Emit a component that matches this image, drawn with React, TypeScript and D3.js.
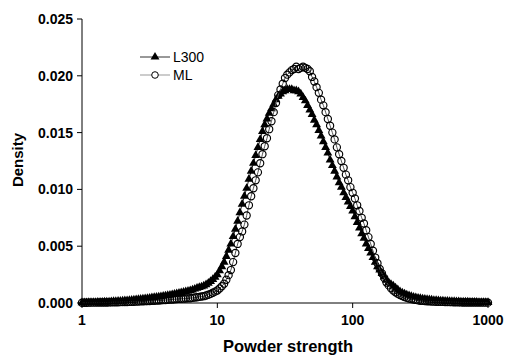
import React from "react";
import * as d3 from "d3";

// Sampling grid: 60 samples per decade from 1 to 1000 (log10 steps of 1/60)
const SAMPLES_PER_DECADE = 60;
const SAMPLE_COUNT = 181;

// Density values in units of 1e-4
const DENSITY_UNIT = 1e-4;
const l300Density = [
  0.3, 0.35, 0.4, 0.45, 0.5, 0.55, 0.6,
  0.68, 0.77, 0.85, 0.93, 1.0, 1.1,
  1.2, 1.35, 1.5, 1.6, 1.75, 1.9,
  2.05, 2.2, 2.35, 2.5, 2.7, 2.9,
  3.1, 3.35, 3.6, 3.85, 4.1, 4.4,
  4.65, 4.9, 5.2, 5.45, 5.7, 6.0,
  6.35, 6.7, 7.05, 7.45, 7.8, 8.2,
  8.65, 9.1, 9.5, 10.0, 10.5, 11.0,
  11.6, 12.3, 13.0, 13.7, 14.3, 15.0,
  16.2, 17.5, 19.0, 20.8, 22.8, 25.0,
  28.5, 32, 36, 41, 46.5, 52,
  58.5, 65, 72, 79.5, 87, 94,
  101, 109, 116, 123, 130, 137,
  144, 151, 157, 162, 167, 171,
  175, 179, 182, 184, 186, 187,
  188, 188, 188, 187, 187, 186,
  184, 181, 178, 174, 170, 166,
  161, 157, 152, 147, 142, 137,
  132, 126, 121, 116, 111, 106,
  102, 97, 93, 89, 85, 81,
  76, 71, 66, 61, 57, 52,
  48, 44, 40, 36, 32, 29,
  26, 23, 20, 18, 16.5, 15,
  13.3, 11.7, 10, 9.0, 8.1, 7.2,
  6.5, 5.8, 5.2, 4.8, 4.4, 4.0,
  3.7, 3.4, 3.1, 2.9, 2.65, 2.4,
  2.25, 2.1, 1.95, 1.8, 1.7, 1.6,
  1.5, 1.4, 1.35, 1.25, 1.2, 1.1,
  1.03, 0.97, 0.9, 0.83, 0.77, 0.7,
  0.67, 0.63, 0.6, 0.56, 0.53, 0.5,
];
const mlDensity = [
  0.2, 0.22, 0.25, 0.27, 0.3, 0.32, 0.35,
  0.37, 0.4, 0.42, 0.45, 0.47, 0.5,
  0.55, 0.6, 0.65, 0.7, 0.75, 0.8,
  0.85, 0.9, 0.97, 1.04, 1.12, 1.2,
  1.3, 1.4, 1.5, 1.6, 1.7, 1.8,
  1.9, 2.0, 2.1, 2.2, 2.35, 2.5,
  2.65, 2.8, 2.95, 3.1, 3.3, 3.5,
  3.6, 3.7, 3.8, 3.9, 4.05, 4.2,
  4.5, 4.8, 5.1, 5.4, 5.7, 6.0,
  6.6, 7.3, 8.0, 9.0, 10.0, 11.0,
  12.8, 14.8, 17, 20.5, 24.5, 29,
  36, 44, 52, 58, 63, 69,
  77, 86, 94, 101, 108, 115,
  123, 131, 138, 145, 153, 160,
  168, 176, 183, 188, 193, 198,
  201, 203, 205, 206, 208, 206,
  207, 208, 207, 206, 204, 199,
  195, 190, 185, 179, 174, 168,
  162, 156, 150, 144, 137, 131,
  125, 119, 113, 108, 102, 97,
  92, 86, 81, 75, 70, 64,
  58, 52, 46, 40, 35, 30,
  26, 22, 18, 15.5, 13, 11,
  9.5, 8.2, 7.0, 6.1, 5.3, 4.5,
  4.0, 3.5, 3.1, 2.7, 2.3, 2.0,
  1.85, 1.7, 1.55, 1.45, 1.3, 1.2,
  1.14, 1.08, 1.02, 0.96, 0.9, 0.84,
  0.78, 0.72, 0.66, 0.6, 0.55, 0.5,
  0.48, 0.47, 0.45, 0.43, 0.42, 0.4,
  0.38, 0.36, 0.35, 0.33, 0.32, 0.3,
];

const xTicks = [1, 10, 100, 1000];
const yTicks = [0, 0.005, 0.01, 0.015, 0.02, 0.025];
const seriesNames = ["L300", "ML"];

const W = 506;
const H = 356;
const FONT = "'Liberation Sans', Arial, Helvetica, sans-serif";

export default function App() {
  const x = d3.scaleLog().domain([1, 1000]).range([82, 488]);
  const y = d3.scaleLinear().domain([0, 0.025]).range([303, 19]);

  const strengths = d3.range(SAMPLE_COUNT).map((i) => Math.pow(10, i / SAMPLES_PER_DECADE));
  const l300 = strengths.map((s, i) => [s, l300Density[i] * DENSITY_UNIT] as [number, number]);
  const ml = strengths.map((s, i) => [s, mlDensity[i] * DENSITY_UNIT] as [number, number]);

  const line = d3
    .line<[number, number]>()
    .x((d) => x(d[0]))
    .y((d) => y(d[1]));

  const tri = d3.symbol().type(d3.symbolTriangle).size(34)() as string;
  const fmt = d3.format(".3f");

  return (
    <svg
      width={W}
      height={H}
      style={{ position: "absolute", left: 0, top: 0, background: "#fff" }}
      fontFamily={FONT}
    >
      <rect width={W} height={H} fill="#fff" />
      {/* L300 */}
      <path d={line(l300) || ""} fill="none" stroke="#222" strokeWidth={1} />
      {l300.map((d, i) => (
        <path key={"t" + i} d={tri} transform={`translate(${x(d[0])},${y(d[1])})`} fill="#000" />
      ))}
      {/* ML */}
      <path d={line(ml) || ""} fill="none" stroke="#555" strokeWidth={1} />
      {ml.map((d, i) => (
        <circle key={"c" + i} cx={x(d[0])} cy={y(d[1])} r={3.6} fill="none" stroke="#000" strokeWidth={1.15} />
      ))}

      {/* axes */}
      <line x1={82} x2={82} y1={y(0.025)} y2={y(0)} stroke="#000" strokeWidth={1} />
      <line x1={82} x2={488} y1={y(0)} y2={y(0)} stroke="#000" strokeWidth={1} />
      {yTicks.map((t) => (
        <g key={"y" + t}>
          <line x1={77} x2={82} y1={y(t)} y2={y(t)} stroke="#000" />
          <text x={73} y={y(t)} dy="0.36em" textAnchor="end" fontSize={14} fontWeight="bold">
            {fmt(t)}
          </text>
        </g>
      ))}
      {xTicks.map((t) => (
        <g key={"x" + t}>
          <line x1={x(t)} x2={x(t)} y1={y(0)} y2={y(0) + 5} stroke="#000" />
          <text x={x(t)} y={325} textAnchor="middle" fontSize={14} fontWeight="bold">
            {t}
          </text>
        </g>
      ))}
      <text x={288} y={352} textAnchor="middle" fontSize={16.5} fontWeight="bold">
        Powder strength
      </text>
      <text transform="translate(23,160) rotate(-90)" textAnchor="middle" fontSize={15} fontWeight="bold">
        Density
      </text>

      {/* legend */}
      <g>
        <line x1={140} x2={170} y1={57} y2={57} stroke="#333" strokeWidth={1} />
        <path d={tri} transform="translate(155,57)" fill="#000" />
        <text x={173} y={57} dy="0.36em" fontSize={14}>
          {seriesNames[0]}
        </text>
        <line x1={140} x2={170} y1={75} y2={75} stroke="#999" strokeWidth={1} />
        <circle cx={155} cy={75} r={3.3} fill="#fff" stroke="#000" strokeWidth={1} />
        <text x={173} y={75} dy="0.36em" fontSize={14}>
          {seriesNames[1]}
        </text>
      </g>
    </svg>
  );
}
